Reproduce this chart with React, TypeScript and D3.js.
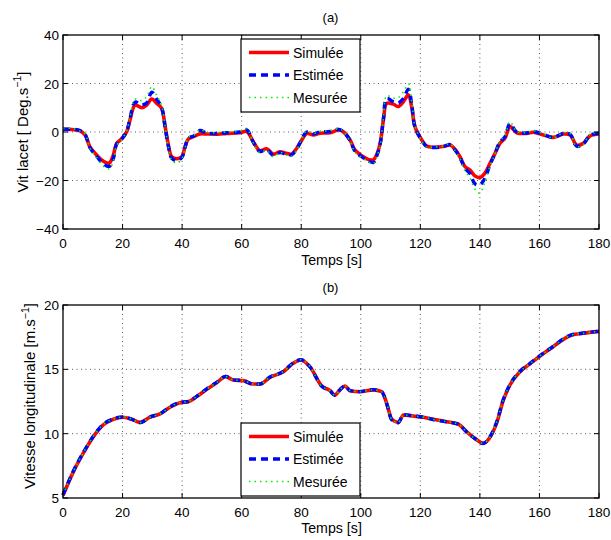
import React from "react";
import * as d3 from "d3";

// ---------- data ----------
const xTicks = [0, 20, 40, 60, 80, 100, 120, 140, 160, 180];
const yawTicks = [-40, -20, 0, 20, 40];
const speedTicks = [5, 10, 15, 20];
const legendLabels = ["Simulée", "Estimée", "Mesurée"];

const yawTime = [
  0, 3, 5.7, 7.4, 9.1, 11.3, 13.5, 15.5, 16.9, 18,
  19.7, 21.4, 22.5, 24.2, 26.4, 28.1, 29.8, 31.5, 33.1, 34.3,
  35.4, 36.5, 38.2, 39.9, 41, 42.1, 43.8, 46, 48.3, 52,
  55, 59.4, 61.7, 63.9, 66.1, 68.4, 70.6, 72.9, 75.1, 76.8,
  78.5, 80.2, 81.8, 84.1, 86.3, 89.7, 92.5, 94.1, 96.4, 98,
  100.3, 102.5, 104.2, 105.3, 106.5, 107.6, 108.7, 110.9, 112.6, 114.3,
  116, 117.1, 118.2, 120.5, 122.1, 124.3, 127.7, 130, 131.6, 133.3,
  135, 136.7, 138.3, 140, 141.7, 143.4, 145.1, 146.7, 148.4, 150.1,
  152.4, 155.7, 157.9, 161.3, 164.6, 168, 170.3, 172.5, 174.7, 177,
  180,
];
const yawSimulee = [
  1.1, 1.0, 0.5, -1.2, -6.3, -9.5, -12, -12.8, -9.5, -4.7,
  -2.8, 0.1, 5, 11.1, 10, 11.1, 13.6, 11.8, 9.8, 2.2,
  -5.4, -10.2, -11, -10.2, -6, -2.9, -1.9, -0.8, -0.8, -0.9,
  -0.6, -0.3, 0.2, -4, -7.7, -6.9, -9.1, -8.2, -8.8, -9.1,
  -6.7, -3.3, -0.6, -1.2, -0.5, -0.3, 0.8, 0.1, -3.3, -7.4,
  -9.8, -11.3, -11.5, -9.5, -4.7, 5, 11.8, 11.5, 10.5, 12.5,
  15.3, 10.4, 2.2, -3.3, -5.8, -6.3, -6, -5.4, -7.1, -10.2,
  -14.3, -15.7, -18.1, -18.8, -17, -12.9, -8.8, -4.7, -2.6, 2.2,
  -0.3, -0.6, -0.1, -1.2, -2.2, -0.8, -1.2, -5.4, -4.7, -1.6,
  -0.8,
];
const yawEstimee = [
  1.2, 1.1, 0.6, -1.0, -6.5, -10, -13, -14.2, -11, -5,
  -3, 0.3, 5.5, 12.3, 11.2, 12, 16.4, 13.5, 10.2, 2,
  -6, -10.8, -11.8, -10.5, -6.2, -2.5, -1.7, 0.6, -0.5, -0.6,
  -0.3, 0, 0.9, -4.2, -8, -7.2, -9.6, -8.5, -9.2, -9.4,
  -7, -3, 0, -0.8, 0, 0.2, 1.1, 0.2, -3.5, -7.8,
  -10.2, -11.8, -12.6, -10, -5, 5.5, 13.8, 12.5, 12, 13.8,
  17.6, 11.5, 2, -3.5, -6, -6.4, -6, -5.2, -7.3, -10.5,
  -15, -17.2, -21.3, -21.8, -19, -13.5, -8.8, -4.2, -2, 3.4,
  -0.1, -0.4, 0.2, -1.0, -2.3, -0.6, -1.0, -5.8, -5, -1.3,
  -0.5,
];
const yawMesuree = [
  1.3, 1.5, 0.4, -0.8, -6.8, -10.5, -14, -15.2, -12, -5.5,
  -3.2, 0.5, 6, 13.5, 13, 14.5, 18.7, 15, 11, 2.5,
  -6.5, -11.5, -12.8, -11, -6.5, -2.2, -1.5, 1.0, -0.3, -0.2,
  0, 0.4, 1.4, -4.5, -8.5, -7.6, -10.2, -8.4, -9.6, -10,
  -7.5, -2.8, 0.4, -0.6, 0.3, 0.6, 1.4, 0.3, -3.8, -8.2,
  -10.5, -12.2, -13.2, -10.5, -5.5, 6, 15, 14, 14.2, 16.5,
  19.8, 12.5, 2.5, -3.8, -6.3, -6.2, -5.8, -4.8, -7.5, -11,
  -16, -19, -23.5, -25.2, -20.5, -14, -9, -3.8, -1.5, 4.2,
  0.2, -0.2, 0.6, -0.8, -2.5, -0.3, -0.7, -6, -5.2, -0.8,
  -0.3,
];

const speedTime = [
  0, 3.5, 6.8, 10.2, 13.5, 16.9, 20.2, 23.1, 25.9, 29.2,
  32.6, 35.9, 39.3, 42.1, 44.9, 48.3, 51.6, 54.6, 57.2, 60.5,
  63.9, 66.1, 69.5, 74, 77.3, 79.9, 82.9, 86.9, 89.7, 91.3,
  93, 94.7, 96.4, 99.7, 104.2, 107, 108.7, 110.4, 112.6, 114.3,
  117.6, 121, 124.3, 128.8, 132.7, 135.5, 138.3, 141.1, 143.4, 145.6,
  147.9, 150.1, 153.5, 156.8, 160.2, 164.6, 168, 170.8, 174.7, 180,
];
const speedSimulee = [
  5.2, 7.05, 8.48, 9.77, 10.68, 11.12, 11.28, 11.12, 10.88, 11.28,
  11.53, 12.05, 12.41, 12.49, 12.88, 13.45, 13.96, 14.43, 14.17, 14.12,
  13.86, 13.86, 14.38, 14.82, 15.47, 15.73, 15.21, 13.7, 13.34, 13.0,
  13.4, 13.7, 13.34, 13.26, 13.4, 13.26, 12.36, 11.12, 10.88, 11.45,
  11.37, 11.28, 11.12, 10.93, 10.75, 10.16, 9.64, 9.25, 9.72, 10.81,
  12.62, 13.78, 14.82, 15.42, 16.04, 16.76, 17.33, 17.67, 17.8, 17.95,
];
const speedEstimee = [
  5.25, 7.1, 8.52, 9.8, 10.72, 11.15, 11.3, 11.12, 10.86, 11.3,
  11.55, 12.08, 12.43, 12.5, 12.9, 13.48, 13.98, 14.45, 14.18, 14.12,
  13.85, 13.86, 14.4, 14.84, 15.5, 15.75, 15.2, 13.68, 13.33, 12.98,
  13.42, 13.72, 13.34, 13.27, 13.42, 13.27, 12.33, 11.08, 10.85, 11.48,
  11.38, 11.28, 11.1, 10.92, 10.74, 10.14, 9.62, 9.24, 9.76, 10.88,
  12.68, 13.82, 14.85, 15.45, 16.06, 16.78, 17.36, 17.68, 17.82, 17.96,
];
const speedMesuree = [
  5.22, 7.08, 8.5, 9.79, 10.7, 11.14, 11.29, 11.13, 10.87, 11.29,
  11.54, 12.06, 12.42, 12.5, 12.89, 13.46, 13.97, 14.44, 14.17, 14.13,
  13.86, 13.85, 14.39, 14.83, 15.48, 15.74, 15.22, 13.69, 13.35, 12.99,
  13.41, 13.71, 13.35, 13.26, 13.41, 13.26, 12.35, 11.1, 10.86, 11.46,
  11.37, 11.29, 11.11, 10.93, 10.75, 10.15, 9.63, 9.25, 9.74, 10.85,
  12.65, 13.8, 14.83, 15.43, 16.05, 16.77, 17.35, 17.67, 17.81, 17.95,
];

// ---------- styling ----------
const FONT = "'Liberation Sans', Arial, Helvetica, sans-serif";
const COLORS = ["#ff0000", "#0000ff", "#00ee00"];
const STYLES = [
  { width: 3.6, dash: undefined as string | undefined },
  { width: 3.4, dash: "7,5" },
  { width: 1.6, dash: "1.5,4" },
];

const W = 611;
const H = 540;
const X0 = 63;
const X1 = 599;

type PanelProps = {
  top: number;
  bottom: number;
  domain: [number, number];
  yTicks: number[];
  times: number[];
  series: number[][];
  title: string;
  titleY: number;
  yLabel: string;
  yLabelX: number;
  yLabelY: number;
  xLabelY: number;
  legendTop: number;
  curve: d3.CurveFactory;
};

function fmt(v: number) {
  return v < 0 ? "\u2212" + Math.abs(v) : String(v);
}

function Panel(p: PanelProps) {
  const x = d3.scaleLinear().domain([0, 180]).range([X0, X1]);
  const y = d3.scaleLinear().domain(p.domain).range([p.bottom, p.top]);
  const line = (vals: number[]) =>
    d3
      .line<number>()
      .x((_, i) => x(p.times[i]))
      .y((v) => y(v))
      .curve(p.curve)(vals) || "";
  const tick = 5;
  const legX = 241;
  const legW = 119;
  const legH = 73;
  return (
    <g>
      <text x={330.5} y={p.titleY} fontSize={13} textAnchor="middle" fontFamily={FONT}>
        {p.title}
      </text>
      {/* grid */}
      {xTicks.slice(1, -1).map((t) => (
        <line key={"gx" + t} x1={x(t)} x2={x(t)} y1={p.top} y2={p.bottom} stroke="#333" strokeWidth={0.8} strokeDasharray="1,3.5" />
      ))}
      {p.yTicks.slice(1, -1).map((t) => (
        <line key={"gy" + t} x1={X0} x2={X1} y1={y(t)} y2={y(t)} stroke="#333" strokeWidth={0.8} strokeDasharray="1,3.5" />
      ))}
      {/* lines */}
      <g>
        {p.series.map((s, i) => (
          <path
            key={"s" + i}
            d={line(s)}
            fill="none"
            stroke={COLORS[i]}
            strokeWidth={STYLES[i].width}
            strokeDasharray={STYLES[i].dash}
            strokeLinejoin="round"
          />
        ))}
      </g>
      {/* ticks */}
      {xTicks.map((t) => (
        <g key={"tx" + t}>
          <line x1={x(t)} x2={x(t)} y1={p.bottom} y2={p.bottom - tick} stroke="#000" />
          <line x1={x(t)} x2={x(t)} y1={p.top} y2={p.top + tick} stroke="#000" />
          <text x={x(t)} y={p.bottom + 18.5} fontSize={13.5} textAnchor="middle" fontFamily={FONT}>
            {fmt(t)}
          </text>
        </g>
      ))}
      {p.yTicks.map((t) => (
        <g key={"ty" + t}>
          <line x1={X0} x2={X0 + tick} y1={y(t)} y2={y(t)} stroke="#000" />
          <line x1={X1} x2={X1 - tick} y1={y(t)} y2={y(t)} stroke="#000" />
          <text x={X0 - 4} y={y(t) + 5} fontSize={13.5} textAnchor="end" fontFamily={FONT}>
            {fmt(t)}
          </text>
        </g>
      ))}
      {/* box */}
      <rect x={X0} y={p.top} width={X1 - X0} height={p.bottom - p.top} fill="none" stroke="#000" strokeWidth={1.3} />
      {/* axis labels */}
      <text x={(X0 + X1) / 2 + 0.5} y={p.xLabelY} fontSize={14.2} textAnchor="middle" fontFamily={FONT}>
        Temps [s]
      </text>
      <text
        transform={`translate(${p.yLabelX},${p.yLabelY}) rotate(-90)`}
        fontSize={15}
        textAnchor="middle"
        fontFamily={FONT}
      >
        {p.yLabel}
        <tspan dy={-6.5} fontSize={10.5}>
          {"\u2212"}1
        </tspan>
        <tspan dy={6.5}>]</tspan>
      </text>
      {/* legend */}
      <rect x={legX} y={p.legendTop} width={legW} height={legH} fill="#fff" stroke="#000" strokeWidth={1.2} />
      {legendLabels.map((lab, i) => {
        const cy = p.legendTop + 13.5 + i * 22.5;
        return (
          <g key={"l" + i}>
            <line
              x1={legX + 8}
              x2={legX + 48}
              y1={cy}
              y2={cy}
              stroke={COLORS[i]}
              strokeWidth={STYLES[i].width}
              strokeDasharray={STYLES[i].dash}
            />
            <text x={legX + 52} y={cy + 5} fontSize={14} fontFamily={FONT}>
              {lab}
            </text>
          </g>
        );
      })}
    </g>
  );
}

export default function App() {
  return (
    <svg
      width={W}
      height={H}
      viewBox={`0 0 ${W} ${H}`}
      style={{ position: "absolute", left: 0, top: 0, background: "#fff" }}
    >
      <rect width={W} height={H} fill="#fff" />
      <Panel
        top={35}
        bottom={229}
        domain={[-40, 40]}
        yTicks={yawTicks}
        times={yawTime}
        series={[yawSimulee, yawEstimee, yawMesuree]}
        title="(a)"
        titleY={22}
        yLabel="Vit lacet [ Deg.s"
        yLabelX={27.5}
        yLabelY={132}
        xLabelY={265}
        legendTop={39}
        curve={d3.curveCatmullRom.alpha(0.5)}
      />
      <Panel
        top={305}
        bottom={498}
        domain={[5, 20]}
        yTicks={speedTicks}
        times={speedTime}
        series={[speedSimulee, speedEstimee, speedMesuree]}
        title="(b)"
        titleY={292}
        yLabel="Vitesse longitudinale [m.s"
        yLabelX={35}
        yLabelY={396}
        xLabelY={533}
        legendTop={423}
        curve={d3.curveMonotoneX}
      />
    </svg>
  );
}
